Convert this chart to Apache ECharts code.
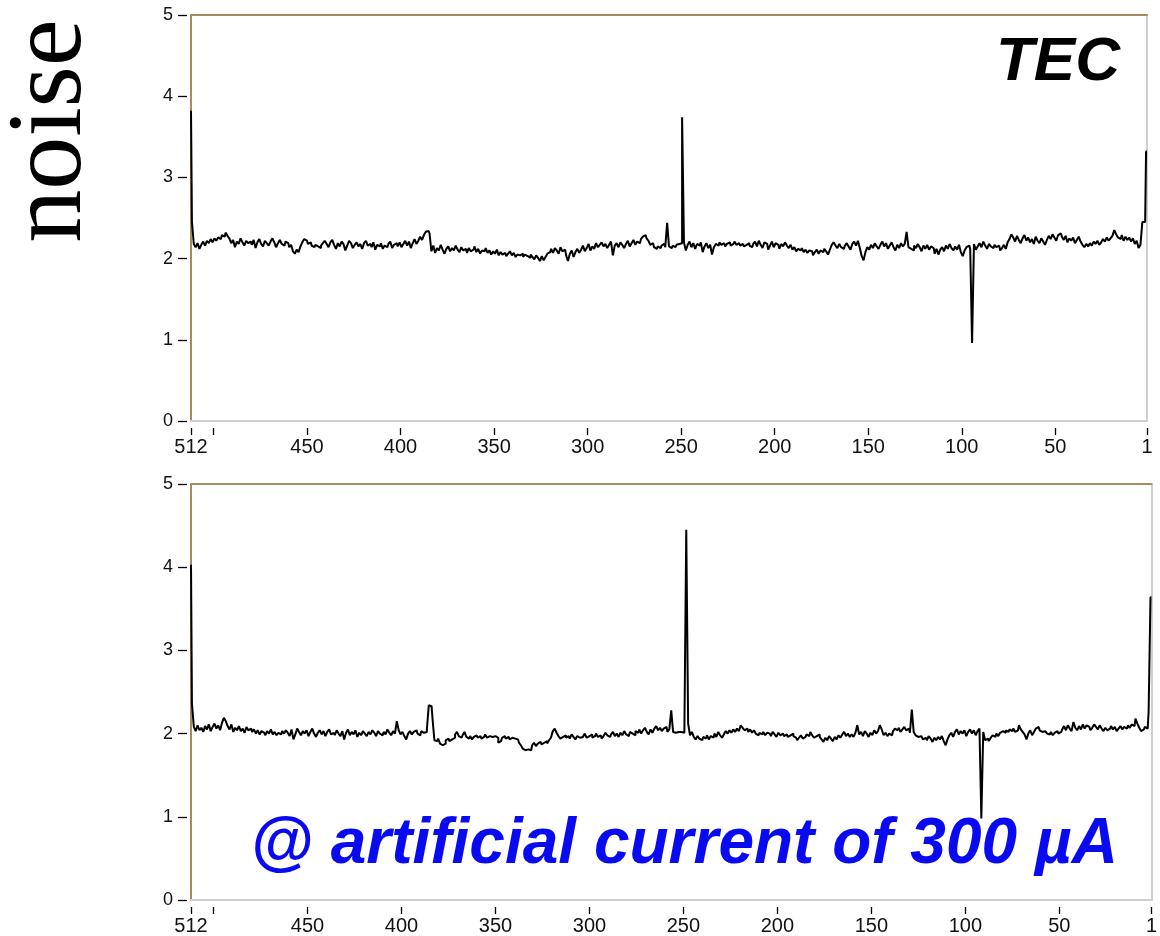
<!DOCTYPE html>
<html>
<head>
<meta charset="utf-8">
<script src="https://cdn.jsdelivr.net/npm/echarts@6/dist/echarts.min.js"></script>
<style>
  html, body { margin: 0; padding: 0; background: #fff; }
  #chart { width: 1160px; height: 936px; }
</style>
</head>
<body>
<div id="chart"></div>
<script>
// Strip noise per readout channel, listed from channel 512 down to channel 1.
const tecNoise = [
  3.82, 2.45, 2.18, 2.14, 2.19, 2.12, 2.17, 2.21, 2.16, 2.22, 2.19, 2.24, 2.20, 2.25, 2.22, 2.26,
  2.24, 2.29, 2.27, 2.32, 2.28, 2.25, 2.19, 2.23, 2.14, 2.21, 2.18, 2.25, 2.20, 2.16, 2.22, 2.19,
  2.21, 2.17, 2.23, 2.13, 2.20, 2.24, 2.18, 2.15, 2.22, 2.19, 2.16, 2.21, 2.25, 2.20, 2.14, 2.19,
  2.23, 2.18, 2.16, 2.21, 2.19, 2.14, 2.17, 2.09, 2.06, 2.11, 2.08, 2.15, 2.20, 2.24, 2.22, 2.18,
  2.20, 2.16, 2.14, 2.17, 2.15, 2.13, 2.16, 2.19, 2.22, 2.18, 2.14, 2.20, 2.23, 2.17, 2.12, 2.19,
  2.15, 2.21, 2.18, 2.10, 2.16, 2.22, 2.19, 2.13, 2.17, 2.20, 2.15, 2.18, 2.12, 2.19, 2.22, 2.16,
  2.18, 2.14, 2.20, 2.11, 2.17, 2.15, 2.19, 2.12, 2.16, 2.14, 2.18, 2.21, 2.13, 2.17, 2.19, 2.15,
  2.20, 2.14, 2.18, 2.22, 2.16, 2.21, 2.13, 2.19, 2.24, 2.18, 2.22, 2.27, 2.23, 2.29, 2.33, 2.34,
  2.31, 2.09, 2.16, 2.07, 2.13, 2.10, 2.17, 2.11, 2.06, 2.12, 2.15, 2.09, 2.13, 2.10, 2.16, 2.11,
  2.08, 2.14, 2.10, 2.12, 2.07, 2.13, 2.09, 2.11, 2.15, 2.08, 2.12, 2.06, 2.10, 2.09, 2.13, 2.07,
  2.10, 2.05, 2.09, 2.06, 2.11, 2.04, 2.08, 2.05, 2.07, 2.03, 2.06, 2.09, 2.04, 2.07, 2.02, 2.05,
  2.04, 2.06, 2.02, 2.05, 2.03, 2.01, 2.05, 2.02, 1.99, 2.04, 2.01, 1.97, 2.03, 1.98, 2.02, 2.06,
  2.08, 2.12, 2.07, 2.13, 2.10, 2.06, 2.14, 2.09, 2.11, 2.04, 1.97, 2.06, 2.10, 2.02, 2.08, 2.12,
  2.07, 2.11, 2.16, 2.09, 2.13, 2.18, 2.10, 2.15, 2.12, 2.19, 2.14, 2.17, 2.20, 2.15, 2.18, 2.13,
  2.17, 2.21, 2.04, 2.16, 2.19, 2.14, 2.20, 2.17, 2.13, 2.18, 2.22, 2.15, 2.19, 2.23, 2.17, 2.21,
  2.19, 2.24, 2.27, 2.29, 2.25, 2.22, 2.17, 2.19, 2.14, 2.12, 2.15, 2.13, 2.16, 2.18, 2.14, 2.44,
  2.15, 2.13, 2.16, 2.14, 2.17, 2.18, 2.19, 3.74, 2.20, 2.10, 2.17, 2.21, 2.14, 2.19, 2.12, 2.18,
  2.16, 2.20, 2.08, 2.15, 2.19, 2.13, 2.17, 2.05, 2.14, 2.18, 2.16, 2.20, 2.17, 2.19, 2.15, 2.18,
  2.20, 2.16, 2.18, 2.21, 2.17, 2.19, 2.16, 2.18, 2.15, 2.17, 2.19, 2.16, 2.14, 2.18, 2.21, 2.15,
  2.22, 2.17, 2.13, 2.20, 2.18, 2.11, 2.16, 2.21, 2.14, 2.19, 2.17, 2.12, 2.18, 2.15, 2.20, 2.16,
  2.13, 2.17, 2.11, 2.14, 2.09, 2.12, 2.10, 2.13, 2.08, 2.11, 2.07, 2.10, 2.09, 2.04, 2.08, 2.11,
  2.06, 2.10, 2.08, 2.12, 2.09, 2.05, 2.11, 2.17, 2.20, 2.16, 2.13, 2.18, 2.14, 2.12, 2.16, 2.19,
  2.15, 2.11, 2.18, 2.21, 2.16, 2.22, 2.13, 2.03, 1.98, 2.08, 2.14, 2.11, 2.17, 2.13, 2.19, 2.15,
  2.12, 2.17, 2.21, 2.15, 2.19, 2.12, 2.16, 2.20, 2.14, 2.10, 2.17, 2.13, 2.19, 2.15, 2.18, 2.33,
  2.14, 2.12, 2.10, 2.16, 2.13, 2.18, 2.14, 2.09, 2.16, 2.12, 2.17, 2.11, 2.15, 2.13, 2.06, 2.12,
  2.05, 2.11, 2.14, 2.09, 2.16, 2.12, 2.18, 2.13, 2.10, 2.15, 2.11, 2.17, 2.08, 2.03, 2.10, 2.14,
  2.16, 2.12, 0.96, 2.18, 2.11, 2.15, 2.19, 2.14, 2.21, 2.16, 2.12, 2.18, 2.15, 2.13, 2.17, 2.14,
  2.16, 2.10, 2.13, 2.17, 2.12, 2.20, 2.24, 2.30, 2.26, 2.21, 2.28, 2.23, 2.19, 2.25, 2.29, 2.22,
  2.26, 2.20, 2.24, 2.18, 2.27, 2.22, 2.19, 2.25, 2.21, 2.17, 2.23, 2.28, 2.24, 2.30, 2.26, 2.22,
  2.29, 2.31, 2.27, 2.23, 2.28, 2.20, 2.25, 2.22, 2.26, 2.19, 2.23, 2.27, 2.21, 2.17, 2.14, 2.18,
  2.15, 2.19, 2.16, 2.21, 2.18, 2.22, 2.17, 2.20, 2.24, 2.21, 2.26, 2.22, 2.25, 2.28, 2.35, 2.30,
  2.26, 2.24, 2.29, 2.22, 2.27, 2.23, 2.26, 2.21, 2.25, 2.18, 2.22, 2.13, 2.17, 2.45, 2.45, 3.32
];

// Same module with an artificial leakage current of 300 µA, channel 512 down to 1.
const currentNoise = [
  4.03, 2.36, 2.08, 2.03, 2.10, 2.04, 2.07, 2.02, 2.09, 2.05, 2.11, 2.03, 2.08, 2.12, 2.06, 2.10,
  2.04, 2.13, 2.19, 2.15, 2.09, 2.05, 2.11, 2.02, 2.07, 2.04, 2.09, 2.03, 2.06, 2.01, 2.08, 2.04,
  2.06, 2.02, 2.05, 2.00, 2.04, 1.99, 2.03, 2.01, 1.98, 2.03, 2.00, 2.05, 1.99, 2.02, 1.98, 2.01,
  1.99, 2.03, 2.00, 2.04, 2.01, 1.97, 2.05, 1.93, 1.99, 2.06, 2.02, 1.98, 2.03, 2.00, 2.04, 1.97,
  2.02, 2.06, 2.00, 1.96, 2.01, 2.04, 1.99, 2.03, 1.97, 2.02, 2.05, 1.99, 2.01, 1.98, 2.04, 2.00,
  1.97, 2.03, 1.93, 2.01, 2.05, 1.98, 2.02, 1.99, 2.04, 1.96, 2.01, 1.98, 2.03, 2.00, 1.97, 2.02,
  1.99, 2.04, 2.01, 1.97, 2.03, 2.00, 1.98, 2.02, 1.99, 2.05, 2.01, 1.98, 2.03, 2.00, 2.15, 2.04,
  1.99, 2.02, 1.97, 1.93, 2.00, 2.03, 1.99, 2.02, 2.04, 2.00, 1.98, 2.03, 2.01, 2.02, 2.05, 2.34,
  2.33, 2.18, 1.92, 1.91, 1.94, 1.88, 1.86, 1.88, 1.92, 1.94, 1.91, 1.93, 1.95, 1.99, 2.02, 1.97,
  1.95, 1.98, 2.02, 1.96, 1.94, 1.97, 1.93, 1.96, 1.98, 1.95, 1.97, 1.94, 1.96, 1.99, 1.95, 1.97,
  1.96, 1.94, 1.97, 1.95, 1.89, 1.91, 1.95, 1.97, 1.94, 1.96, 1.93, 1.95, 1.94, 1.96, 1.93, 1.89,
  1.86, 1.82, 1.80, 1.81, 1.83, 1.80, 1.86, 1.89, 1.85, 1.88, 1.90, 1.87, 1.89, 1.91, 1.88, 1.92,
  1.95, 2.03, 2.06, 2.01, 1.97, 1.94, 1.96, 1.98, 1.95, 1.97, 1.94, 1.99, 1.96, 1.93, 1.97, 1.95,
  1.96, 1.98, 2.00, 1.95, 1.97, 1.99, 1.95, 1.97, 2.00, 1.96, 1.98, 1.94, 1.97, 2.01, 1.98, 1.96,
  1.99, 2.02, 1.97, 2.00, 1.96, 2.01, 1.98, 2.03, 1.99, 1.97, 2.02, 2.00, 1.98, 2.03, 2.01, 2.05,
  2.00, 2.04, 2.07, 2.02, 1.99, 2.05, 2.01, 2.06, 2.09, 2.04, 2.07, 2.03, 2.06, 2.08, 2.02, 2.05,
  2.28, 2.02, 2.01, 2.02, 2.03, 2.02, 2.01, 2.02, 4.45, 2.12, 1.98, 2.02, 1.96, 1.93, 1.97, 1.94,
  1.92, 1.96, 1.94, 1.98, 1.93, 1.97, 1.95, 2.00, 1.96, 2.02, 1.98, 1.95, 1.99, 2.03, 2.00, 2.04,
  2.01, 2.05, 2.02, 2.06, 2.03, 2.10, 2.07, 2.04, 2.06, 2.02, 2.05, 2.01, 2.04, 2.00, 1.98, 2.01,
  1.99, 2.02, 1.98, 2.01, 2.00, 1.97, 2.02, 1.99, 1.96, 2.01, 1.98, 2.00, 1.97, 1.99, 1.96, 1.98,
  2.00, 1.97, 1.95, 1.92, 1.95, 1.98, 1.94, 1.96, 1.99, 1.97, 2.02, 1.98, 1.95, 1.97, 1.99, 1.96,
  1.93, 1.90, 1.95, 1.92, 1.97, 1.94, 1.91, 1.96, 1.93, 1.98, 1.95, 1.99, 2.02, 1.97, 2.00, 1.96,
  1.99, 1.96, 2.01, 2.10, 1.99, 2.02, 1.97, 2.03, 2.00, 1.96, 2.01, 1.98, 2.04, 2.00, 2.03, 2.10,
  2.05, 1.98, 2.01, 1.97, 2.00, 1.98, 2.03, 2.06, 2.04, 2.07, 2.02, 2.05, 2.08, 2.04, 2.06, 2.01,
  2.29, 2.02, 1.98, 1.96, 1.97, 1.96, 1.93, 1.95, 1.92, 1.97, 1.94, 1.90, 1.95, 1.92, 1.96, 1.93,
  1.97, 1.91, 1.86, 1.93, 1.98, 2.01, 1.96, 2.02, 2.05, 1.99, 2.03, 2.00, 2.04, 1.97, 2.02, 2.05,
  2.00, 2.04, 1.98, 2.03, 2.06, 0.98, 2.02, 1.92, 1.94, 1.91, 1.95, 1.98, 1.96, 2.00, 1.97, 2.01,
  2.03, 2.01, 2.04, 2.02, 2.05, 2.03, 2.06, 2.02, 2.04, 2.10, 2.05, 2.02, 1.99, 1.93, 2.00, 2.04,
  1.98, 2.02, 2.06, 2.08, 2.04, 2.02, 2.03, 2.01, 2.00, 1.99, 2.02, 1.98, 2.01, 2.03, 2.00, 2.02,
  2.05, 2.09, 2.04, 2.10, 2.06, 2.03, 2.14, 2.07, 2.04, 2.09, 2.05, 2.11, 2.06, 2.10, 2.08, 2.04,
  2.07, 2.11, 2.08, 2.05, 2.10, 2.06, 2.03, 2.07, 2.04, 2.06, 2.09, 2.05, 2.08, 2.03, 2.06, 2.09,
  2.05, 2.08, 2.06, 2.10, 2.07, 2.11, 2.09, 2.18, 2.12, 2.07, 2.03, 2.05, 2.08, 2.06, 2.26, 3.64
];

const channelTicks = [512, 500, 450, 400, 350, 300, 250, 200, 150, 100, 50, 1];
const channelLabels = [512, 450, 400, 350, 300, 250, 200, 150, 100, 50, 1];
const firstChannel = 512;

const frameColor = '#a88b5c';
const edgeColor = '#cfcfcf';
const labelFont = 'Liberation Sans, Arial, sans-serif';

function toPoints(values) {
  return values.map((v, i) => [firstChannel - i, v]);
}

// Each panel: a framed plot with detached tick marks below and to the left.
function panelAxes(gridIndex) {
  const base = { gridIndex, type: 'value', min: 1, max: 512, inverse: true,
    splitLine: { show: false } };
  const x = [
    Object.assign({}, base, { position: 'bottom',
      axisLine: { show: true, onZero: false, lineStyle: { color: edgeColor, width: 2 } },
      axisTick: { show: false }, axisLabel: { show: false } }),
    Object.assign({}, base, { position: 'bottom', offset: 7, axisLine: { show: false, onZero: false },
      axisTick: { show: true, length: 7, customValues: channelTicks, lineStyle: { color: '#000', width: 1.3 } },
      axisLabel: { show: true, customValues: channelLabels, margin: 9, color: '#111',
        fontFamily: labelFont, fontSize: 20 } }),
    Object.assign({}, base, { position: 'top',
      axisLine: { show: true, onZero: false, lineStyle: { color: frameColor, width: 2 } },
      axisTick: { show: false }, axisLabel: { show: false } })
  ];
  const ybase = { gridIndex, type: 'value', min: 0, max: 5, interval: 1, splitLine: { show: false } };
  const y = [
    Object.assign({}, ybase, { position: 'left',
      axisLine: { show: true, onZero: false, lineStyle: { color: frameColor, width: 2 } },
      axisTick: { show: false }, axisLabel: { show: false } }),
    Object.assign({}, ybase, { position: 'left', offset: 4, axisLine: { show: false, onZero: false },
      axisTick: { show: true, length: 9, lineStyle: { color: '#000', width: 1.3 } },
      axisLabel: { show: true, margin: 14, color: '#111', fontFamily: labelFont, fontSize: 18 } }),
    Object.assign({}, ybase, { position: 'right',
      axisLine: { show: true, onZero: false, lineStyle: { color: edgeColor, width: 2 } },
      axisTick: { show: false }, axisLabel: { show: false } })
  ];
  return { x, y };
}

const upperPanel = panelAxes(0);
const lowerPanel = panelAxes(1);

const chart = echarts.init(document.getElementById('chart'), null, { renderer: 'canvas' });
chart.setOption({
  animation: false,
  backgroundColor: '#fff',
  grid: [
    { left: 191, right: 13, top: 15, bottom: 515 },
    { left: 191, right: 7, top: 484, bottom: 34 }
  ],
  xAxis: upperPanel.x.concat(lowerPanel.x),
  yAxis: upperPanel.y.concat(lowerPanel.y),
  series: [
    { type: 'line', step: 'middle', xAxisIndex: 1, yAxisIndex: 1, showSymbol: false,
      data: toPoints(tecNoise), lineStyle: { color: '#000', width: 2 } },
    { type: 'line', step: 'middle', xAxisIndex: 4, yAxisIndex: 4, showSymbol: false,
      data: toPoints(currentNoise), lineStyle: { color: '#000', width: 2 } }
  ],
  graphic: [
    { type: 'text', x: 52, y: 131, rotation: Math.PI / 2,
      style: { text: 'noise', font: '106px "Liberation Serif", "Times New Roman", serif',
        fill: '#000', textAlign: 'center', textVerticalAlign: 'middle' } },
    { type: 'text', x: 1120, y: 63,
      style: { text: 'TEC', font: 'italic bold 62px "Liberation Sans", Arial, sans-serif',
        fill: '#000', textAlign: 'right', textVerticalAlign: 'middle' } },
    { type: 'text', x: 1118, y: 845,
      style: { text: '@ artificial current of 300 µA', font: 'italic bold 64px "Liberation Sans", Arial, sans-serif',
        fill: '#0a0af0', textAlign: 'right', textVerticalAlign: 'middle' } }
  ]
});
</script>
</body>
</html>
